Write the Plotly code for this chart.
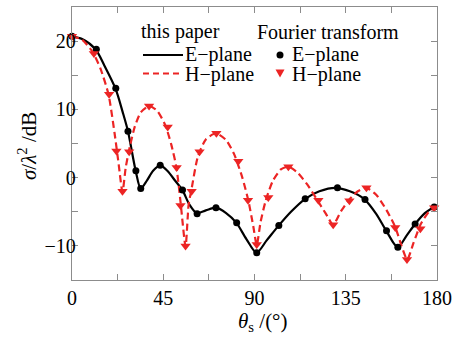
import plotly.graph_objects as go

# ---------------- data ----------------
# "this paper" E-plane curve
theta_e_line = [0, 5, 11.6, 16, 21.5, 25, 27.6, 31.4, 33.9, 37, 40, 43.5, 47, 51, 54.4, 58,
                61.5, 66, 71, 76, 81, 86, 91, 96, 102, 108, 115, 122, 130, 137, 144, 150,
                155, 160.6, 165, 169.2, 174, 178.6, 180]
sigma_e_line = [20.7, 20.3, 18.8, 16.4, 13.0, 9.6, 6.8, 1.0, -1.6, -0.4, 1.0, 1.8, 1.0, -0.5, -1.8, -4.0,
                -5.2, -4.8, -4.4, -5.2, -6.6, -9.0, -11.0, -9.2, -7.0, -5.0, -3.1, -2.0, -1.5, -2.0, -3.1, -5.3,
                -7.8, -10.2, -8.5, -6.8, -5.2, -4.3, -4.1]

# "this paper" H-plane curve
theta_h_line = [0, 5, 10, 14, 18, 21, 23, 24.9, 26.5, 28.5, 31, 34, 38, 42, 46, 49, 51.5, 53.5,
                56.0, 57.5, 59, 62, 66, 71, 76, 80, 84, 87, 89.5, 91.1, 93, 95.5, 99, 103,
                106.7, 111, 116, 121, 125, 128.8, 132.5, 136.5, 141, 145.2, 150, 155, 159.5,
                162.5, 165.3, 168.5, 172, 176, 180]
sigma_h_line = [20.7, 20.2, 18.5, 16.0, 12.2, 6.5, 2.0, -2.1, 1.5, 4.5, 7.5, 9.6, 10.5, 9.8, 7.7, 4.8, 1.5, -3.5,
                -10.1, -4.0, -1.6, 3.0, 5.6, 6.5, 5.5, 3.4, 0.0, -3.4, -7.3, -9.9, -6.5, -3.4, -0.5, 1.2,
                1.6, 0.8, -1.0, -3.3, -5.2, -6.9, -5.0, -3.3, -2.0, -1.5, -2.5, -4.7, -7.3,
                -10.0, -12.0, -9.5, -6.8, -5.0, -4.2]

# "Fourier transform" samples
theta_e_ft = [0, 12.0, 21.6, 27.6, 31.5, 33.9, 43.5, 54.5, 61.7, 71.0, 81.2, 91.1, 102.0,
              115.0, 130.9, 144.5, 155.1, 160.7, 169.2, 178.6]
sigma_e_ft = [20.7, 18.8, 13.1, 6.8, 1.0, -1.6, 1.8, -1.8, -5.3, -4.4, -6.6, -11.0, -7.0,
              -3.1, -1.5, -3.2, -7.8, -10.2, -6.8, -4.3]

theta_h_ft = [0, 10.8, 18.3, 21.9, 24.9, 28.2, 38.0, 47.2, 51.6, 53.5, 56.0, 59.0, 62.9, 71.2,
              82.0, 86.8, 91.1, 96.8, 106.7, 121.5, 128.8, 136.8, 145.2, 159.4, 165.2, 171.8, 178.6]
sigma_h_ft = [20.7, 18.2, 12.2, 3.9, -2.0, 3.8, 10.5, 7.4, 1.5, -4.1, -10.0, -2.0, 3.8, 6.5,
              2.4, -3.3, -9.8, -2.9, 1.6, -3.3, -6.9, -3.4, -1.5, -7.3, -12.0, -7.5, -4.4]

x_ticks = [0, 45, 90, 135, 180]
y_ticks = [-10, 0, 10, 20]
headers = ["this paper", "Fourier transform"]
plane_labels = ["E\u2212plane", "H\u2212plane"]
x_title = "<i>\u03b8</i><sub>s</sub> /(\u00b0)"
y_title = "<i>\u03c3</i>/<i>\u03bb</i><sup>2</sup> /dB"

# ---------------- styling ----------------
W, H = 459, 339
L, R, T, B = 72, 22, 7, 59
PW, PH = W - L - R, H - T - B
FONT = "Liberation Serif"
RED = "#ec2424"
AXC = "#8c8c8c"


def px(xp):
    return (xp - L) / PW


def py(yp):
    return (T + PH - yp) / PH


fig = go.Figure()
fig.add_trace(go.Scatter(x=theta_e_line, y=sigma_e_line, mode="lines",
                         line=dict(color="black", width=2.2, shape="spline", smoothing=0.8),
                         showlegend=False))
fig.add_trace(go.Scatter(x=theta_h_line, y=sigma_h_line, mode="lines",
                         line=dict(color=RED, width=2.2, dash="7px,4px", shape="spline", smoothing=0.6),
                         showlegend=False))
fig.add_trace(go.Scatter(x=theta_e_ft, y=sigma_e_ft, mode="markers",
                         marker=dict(color="black", size=7, symbol="circle"),
                         cliponaxis=False, showlegend=False))
fig.add_trace(go.Scatter(x=theta_h_ft, y=sigma_h_ft, mode="markers",
                         marker=dict(color=RED, size=9, symbol="triangle-down"),
                         cliponaxis=False, showlegend=False))

axis_common = dict(showgrid=False, zeroline=False, showline=True, linecolor=AXC, linewidth=1.3,
                   mirror="ticks", ticks="inside", ticklen=6, tickwidth=1.2, tickcolor=AXC,
                   tickfont=dict(family=FONT, size=20, color="black"))

fig.update_xaxes(range=[0, 180], tickmode="array", tickvals=x_ticks,
                 ticktext=[str(v) for v in x_ticks],
                 minor=dict(dtick=22.5, ticks="inside", ticklen=6, tickcolor=AXC, tickwidth=1.2),
                 ticklabelstandoff=0,
                 **axis_common)
fig.update_yaxes(range=[-15, 25], tickmode="array", tickvals=y_ticks,
                 ticktext=["\u221210", "0", "10", "20"],
                 minor=dict(dtick=5, ticks="inside", ticklen=6, tickcolor=AXC, tickwidth=1.2),
                 ticklabelstandoff=-9,
                 **axis_common)

# ---------------- axis titles and manual two-column legend ----------------
LEG = 20
ann = []
ann.append(dict(x=px(139), y=py(31.5), text=headers[0]))
ann.append(dict(x=px(255), y=py(31.5), text=headers[1]))
ann.append(dict(x=px(183), y=py(54.5), text=plane_labels[0]))
ann.append(dict(x=px(183), y=py(74), text=plane_labels[1]))
ann.append(dict(x=px(290), y=py(54.5), text=plane_labels[0]))
ann.append(dict(x=px(290), y=py(74), text=plane_labels[1]))
for a in ann:
    a.update(xanchor="left", font=dict(family=FONT, size=LEG, color="black"))
ann.append(dict(x=px(263), y=py(322), text=x_title, xanchor="center",
                font=dict(family=FONT, size=21, color="black")))
ann.append(dict(x=px(27), y=py(146), text=y_title, xanchor="center", textangle=-90,
                font=dict(family=FONT, size=21, color="black")))
for a in ann:
    a.update(xref="paper", yref="paper", yanchor="middle", showarrow=False)
fig.update_layout(annotations=ann)

shapes = [
    dict(type="line", xref="paper", yref="paper", x0=px(143), x1=px(183), y0=py(55), y1=py(55),
         line=dict(color="black", width=2.2)),
    dict(type="line", xref="paper", yref="paper", x0=px(143), x1=px(183), y0=py(73.5), y1=py(73.5),
         line=dict(color=RED, width=2.2, dash="6px,4px")),
    dict(type="circle", xref="paper", yref="paper", xsizemode="pixel", ysizemode="pixel",
         xanchor=px(280), yanchor=py(55), x0=-3.5, x1=3.5, y0=-3.5, y1=3.5,
         fillcolor="black", line=dict(width=0)),
    dict(type="path", xref="paper", yref="paper", xsizemode="pixel", ysizemode="pixel",
         xanchor=px(280), yanchor=py(73), path="M-4.5,3.5 L4.5,3.5 L0,-4.5 Z",
         fillcolor=RED, line=dict(width=0)),
]
fig.update_layout(shapes=shapes)

fig.update_layout(width=W, height=H, margin=dict(l=L, r=R, t=T, b=B),
                  plot_bgcolor="white", paper_bgcolor="white",
                  font=dict(family=FONT, color="black"))

fig.write_html("out.html", config={"displayModeBar": False},
               post_script="document.body.style.margin='0';document.body.style.overflow='hidden';")
